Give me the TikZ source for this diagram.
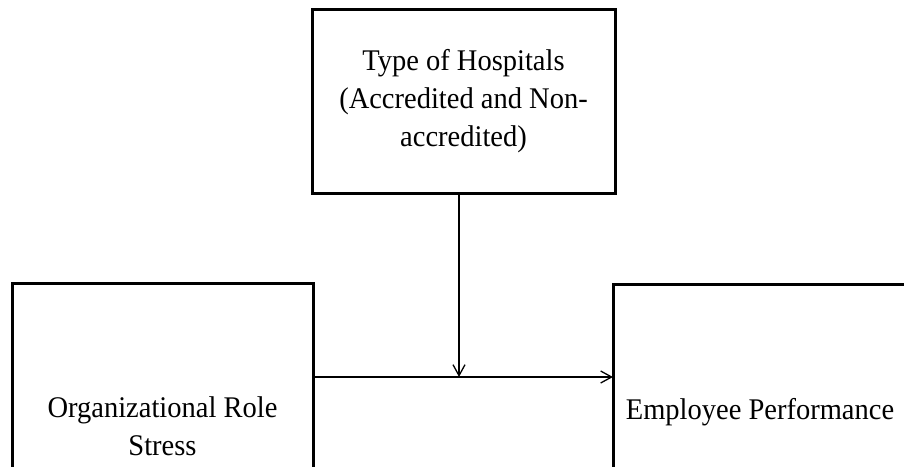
\documentclass[tikz,border=0pt]{standalone}
\usepackage{fontspec}
\setmainfont{Liberation Serif}[FakeStretch=0.95]
\usetikzlibrary{positioning, arrows.meta}

\begin{document}
\begin{tikzpicture}[x=1pt, y=-1pt,
  box/.style={draw, line width=3pt, align=center, inner sep=0pt, outer sep=0pt,
    font=\fontsize{30}{38}\selectfont},
  link/.style={line width=1.3pt, -{Straight Barb[length=11pt, width=12pt, line width=1.3pt]}}]
  \clip (0,0) rectangle (904,466);
  \fill[white] (0,0) rectangle (904,466);
  \node[box, minimum width=303pt, minimum height=184pt] (hosp) at (463.5,101)
    {Type of Hospitals\\(Accredited and Non-\\accredited)};
  \node[box, minimum width=301pt, minimum height=286pt] (stress) at (162.5,426)
    {Organizational Role\\Stress};
  \node[box, minimum width=294pt, minimum height=256pt] (perf) at (760,412)
    {Employee Performance};
  \coordinate (meet) at (459,377);
  \draw[link] (meet |- hosp.south) -- (meet);
  \draw[link] (stress.east |- meet) -- (perf.west |- meet);
\end{tikzpicture}
\end{document}
